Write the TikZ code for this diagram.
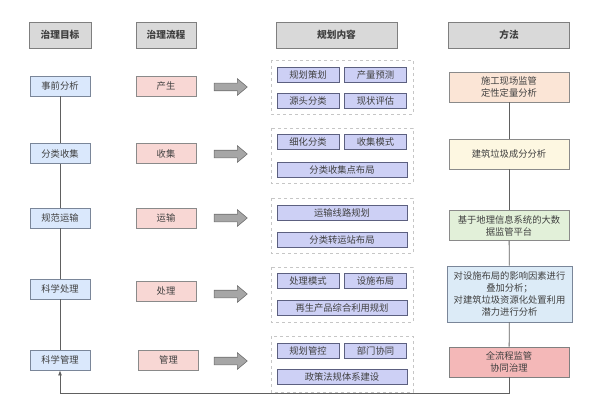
\documentclass[tikz,border=0pt]{standalone}
\usepackage{fontspec}
\setmainfont{Noto Sans CJK SC}
\usetikzlibrary{shapes.arrows,arrows.meta}
\definecolor{txt}{HTML}{404040}
\definecolor{hdrfill}{HTML}{D9D9D9}
\definecolor{hdrdraw}{HTML}{7F7F7F}
\definecolor{lfill}{HTML}{DAE8FC}
\definecolor{ldraw}{HTML}{7A8699}
\definecolor{pfill}{HTML}{F8D7D4}
\definecolor{pdraw}{HTML}{8A8A8A}
\definecolor{ifill}{HTML}{CDD0F5}
\definecolor{idraw}{HTML}{5C6080}
\definecolor{mA}{HTML}{FBE5D6}
\definecolor{mB}{HTML}{FDF7E1}
\definecolor{mC}{HTML}{E2F0D9}
\definecolor{mD}{HTML}{DCEBF7}
\definecolor{mE}{HTML}{F4B8B8}
\definecolor{linec}{HTML}{606060}
\definecolor{arrfill}{HTML}{A6A6A6}
\definecolor{arrdraw}{HTML}{707070}
\begin{document}
\begin{tikzpicture}[x=1pt,y=-1pt,
  every node/.style={font=\fontsize{9.3}{12}\selectfont, text=txt, inner sep=0pt, align=center},
  hdr/.style={draw=hdrdraw, fill=hdrfill, line width=0.9pt, minimum height=26pt, font=\fontsize{9.7}{12}\selectfont\bfseries},
  lbox/.style={draw=ldraw, fill=lfill, line width=0.8pt, minimum width=60pt, minimum height=20pt},
  pbox/.style={draw=pdraw, fill=pfill, line width=0.8pt, minimum width=60pt, minimum height=20pt},
  ibox/.style={draw=idraw, fill=ifill, line width=0.8pt, minimum width=62pt, minimum height=15pt},
  iwide/.style={ibox, minimum width=130pt},
  mbox/.style={draw=pdraw, line width=0.8pt, minimum width=120pt, minimum height=30pt},
  grp/.style={draw=gray!45, dashed, line width=0.5pt},
  fat/.style={single arrow, draw=arrdraw, fill=arrfill, line width=0.6pt, minimum height=33pt,
    inner xsep=0pt, inner ysep=3.5pt, single arrow head extend=4.5pt, single arrow tip angle=80},
  conn/.style={draw=linec, line width=0.8pt}
]
\useasboundingbox (0,0) rectangle (594,417);
% headers
\node[hdr, minimum width=62pt] (h1) at (60,35) {治理目标};
\node[hdr, minimum width=60pt] (h2) at (166,35) {治理流程};
\node[hdr, minimum width=121pt] (h3) at (336.5,35) {规划内容};
\node[hdr, minimum width=121pt] (h4) at (509,35) {方法};
% left column
\node[lbox] (l1) at (60,86) {事前分析};
\node[lbox] (l2) at (60,153.5) {分类收集};
\node[lbox] (l3) at (60,218) {规范运输};
\node[lbox] (l4) at (60,289) {科学处理};
\node[lbox] (l5) at (60,360) {科学管理};
% process column
\node[pbox] (p1) at (166,86) {产生};
\node[pbox] (p2) at (166,153.5) {收集};
\node[pbox] (p3) at (166,218) {运输};
\node[pbox] (p4) at (166,291) {处理};
\node[pbox] (p5) at (168.5,360) {管理};
% fat arrows
\node[fat] (a1) at (228.5,87) {};
\node[fat] (a2) at (228.5,154) {};
\node[fat] (a3) at (228.5,218) {};
\node[fat] (a4) at (228.5,294) {};
\node[fat] (a5) at (228.5,361) {};
% dashed groups
\draw[grp] (271,60) rectangle (413,114);
\draw[grp] (271,128) rectangle (413,183);
\draw[grp] (271,198) rectangle (413,253);
\draw[grp] (271,267) rectangle (413,322);
\draw[grp] (271,336) rectangle (413,392);
% inner boxes
\node[ibox] (i11) at (308,74.5) {规划策划};
\node[ibox] (i12) at (375.5,74.5) {产量预测};
\node[ibox] (i13) at (308,100.5) {源头分类};
\node[ibox] (i14) at (375.5,100.5) {现状评估};
\node[ibox] (i21) at (308,142) {细化分类};
\node[ibox] (i22) at (375.5,142) {收集模式};
\node[iwide] (i23) at (342,169.5) {分类收集点布局};
\node[iwide] (i31) at (342,213) {运输线路规划};
\node[iwide] (i32) at (342,239.5) {分类转运站布局};
\node[ibox] (i41) at (308,281) {处理模式};
\node[ibox] (i42) at (375.5,281) {设施布局};
\node[iwide] (i43) at (342,308) {再生产品综合利用规划};
\node[ibox] (i51) at (308,351) {规划管控};
\node[ibox] (i52) at (375.5,351) {部门协同};
\node[iwide] (i53) at (342,377) {政策法规体系建设};
% method column
\node[mbox, fill=mA] (m1) at (509,87) {施工现场监管\\定性定量分析};
\node[mbox, fill=mB] (m2) at (509,154) {建筑垃圾成分分析};
\node[mbox, fill=mC] (m3) at (509,225.5) {基于地理信息系统的大数\\据监管平台};
\node[mbox, fill=mD, draw=ldraw, minimum width=125pt, minimum height=56pt] (m4) at (509.5,294) {对设施布局的影响因素进行\\叠加分析；\\对建筑垃圾资源化处置利用\\潜力进行分析};
\node[mbox, fill=mE, draw=gray] (m5) at (509,362) {全流程监管\\协同治理};
% connectors
\draw[conn] (l1) -- (l2);
\draw[conn] (l2) -- (l3);
\draw[conn] (l3) -- (l4);
\draw[conn] (l4) -- (l5);
\draw[conn] (m1) -- (m2);
\draw[conn] (m2) -- (m3);
\draw[conn] (m3) -- (m4);
\draw[conn] (m4) -- (m5);
\coordinate (c1) at (509,393);
\coordinate (c2) at (60,393);
\draw[conn, -{Latex[length=5pt,width=4pt]}] (m5.south) -- (c1) -- (c2) -- (l5.south);
\end{tikzpicture}
\end{document}
